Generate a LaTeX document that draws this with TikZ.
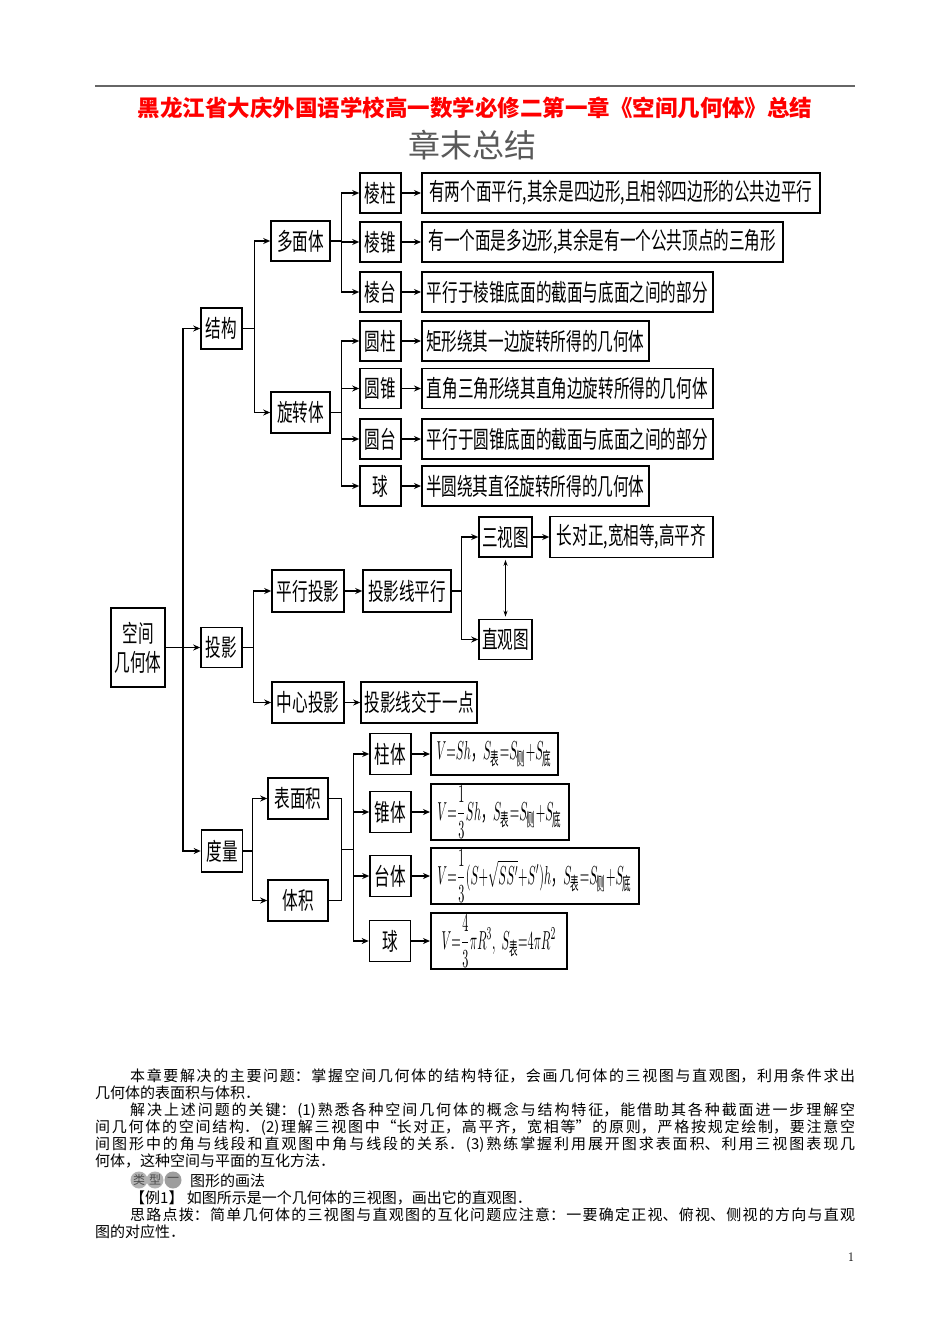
\documentclass[tikz,border=0pt]{standalone}
\usepackage{amsmath}
\usepackage{graphicx}
\usepackage{fontspec}
\newfontfamily\cjk{Noto Sans CJK SC}
\newfontfamily\boxfont[FakeStretch=0.65]{Noto Sans CJK SC}
\usetikzlibrary{arrows.meta,calc}
\XeTeXlinebreaklocale "zh"
\XeTeXlinebreakskip=0pt plus 3pt
\tolerance=9999

\tikzset{
  box/.style={draw, line width=1.6pt, inner sep=1pt, minimum height=40pt,
    font=\boxfont\fontsize{24}{26}\selectfont},
  desc/.style={box, anchor=west},
  fmlbox/.style={draw, line width=1.6pt, inner sep=2pt, anchor=west},
  arr/.style={line width=1.3pt, -{Stealth[length=7pt,width=6pt]}},
  link/.style={line width=1.3pt},
  bodyline/.style={anchor=base west, inner sep=0pt, text width=#1, align=justify,
    font=\cjk\fontsize{15}{17}\selectfont},
  bodylast/.style={anchor=base west, inner sep=0pt, font=\cjk\fontsize{15}{17}\selectfont},
  badge/.style={circle, fill=black!30, inner sep=0pt, minimum size=17pt, text=black!70,
    font=\cjk\fontsize{12}{12}\selectfont}
}
\newcommand{\zh}[1]{\text{\cjk #1}}
\newcommand{\fml}[1]{\scalebox{1.22}[2.6]{\fontsize{10}{12}\selectfont$#1$}}

\begin{document}
\begin{tikzpicture}[x=1pt,y=-1pt]
  \useasboundingbox (0,0) rectangle (950,1344);
  \fill[white] (0,0) rectangle (950,1344);

  % --- header ---
  \draw[line width=1.6pt, black!60] (95,86) -- (855,86);
  \node[font=\cjk\bfseries\fontsize{22.5}{26}\selectfont, text=red] (title) at (475,108)
    {黑龙江省大庆外国语学校高一数学必修二第一章《空间几何体》总结};
  \node[font=\cjk\fontsize{32}{36}\selectfont, text=black!65] (subtitle) at (472,145) {章末总结};

  % --- root and first level ---
  \node[box, minimum width=54pt, minimum height=79pt, align=center,
    font=\boxfont\fontsize{24}{29}\selectfont] (root) at (138,647.5) {空间\\几何体};
  \node[box, minimum width=41pt, minimum height=41pt] (jiegou) at (221.5,328.5) {结构};
  \node[box, minimum width=41pt] (touying) at (221.5,647.5) {投影};
  \node[box, minimum width=41pt, minimum height=42pt] (duliang) at (222,851) {度量};

  % --- structure ---
  \node[box, minimum width=59pt] (duomian) at (300.5,241) {多面体};
  \node[box, minimum width=59pt, minimum height=41pt] (xuanzhuan) at (300.5,412.5) {旋转体};

  \node[box, minimum width=41pt] (lengzhu) at (380.5,193) {棱柱};
  \node[box, minimum width=41pt] (lengzhui) at (380.5,242) {棱锥};
  \node[box, minimum width=41pt] (lengtai) at (380.5,292) {棱台};
  \node[box, minimum width=41pt] (yuanzhu) at (380.5,341) {圆柱};
  \node[box, minimum width=41pt] (yuanzhui) at (380.5,388.5) {圆锥};
  \node[box, minimum width=41pt] (yuantai) at (380.5,439) {圆台};
  \node[box, minimum width=41pt] (qiu) at (380.5,486) {球};

  \node[desc, minimum width=398pt] (d1) at (421,193) {有两个面平行,其余是四边形,且相邻四边形的公共边平行};
  \node[desc, minimum width=361pt] (d2) at (421,242) {有一个面是多边形,其余是有一个公共顶点的三角形};
  \node[desc, minimum width=291pt] (d3) at (421,292) {平行于棱锥底面的截面与底面之间的部分};
  \node[desc, minimum width=227pt] (d4) at (421,341) {矩形绕其一边旋转所得的几何体};
  \node[desc, minimum width=291pt] (d5) at (421,388.5) {直角三角形绕其直角边旋转所得的几何体};
  \node[desc, minimum width=291pt] (d6) at (421,439) {平行于圆锥底面的截面与底面之间的部分};
  \node[desc, minimum width=227pt] (d7) at (421,486) {半圆绕其直径旋转所得的几何体};

  % --- projection ---
  \node[box, minimum width=72pt, minimum height=42pt] (pxty) at (308,591) {平行投影};
  \node[box, minimum width=88pt, minimum height=42pt] (tyxpx) at (407,591) {投影线平行};
  \node[box, minimum width=72pt, minimum height=41pt] (zxty) at (308,702.5) {中心投影};
  \node[box, minimum width=116pt, minimum height=41pt] (tyxj) at (419,702.5) {投影线交于一点};
  \node[box, minimum width=53pt] (sst) at (505.5,537) {三视图};
  \node[box, minimum width=163pt, minimum height=41pt] (cdz) at (631.5,537) {长对正,宽相等,高平齐};
  \node[box, minimum width=53pt] (zgt) at (505.5,639.5) {直观图};

  % --- measure ---
  \node[box, minimum width=60pt, minimum height=41pt] (bmj) at (298,798.5) {表面积};
  \node[box, minimum width=60pt, minimum height=41pt] (tj) at (298,900.5) {体积};
  \node[box, minimum width=41pt, minimum height=41pt] (zt) at (390.5,754) {柱体};
  \node[box, minimum width=41pt, minimum height=41pt] (zht) at (390.5,812) {锥体};
  \node[box, minimum width=41pt, minimum height=41pt] (tt) at (390.5,876) {台体};
  \node[box, minimum width=41pt, minimum height=41pt] (qt) at (390,941) {球};

  \node[fmlbox, minimum width=127pt, minimum height=42pt] (f1) at (430,754)
    {\fml{V{=}Sh\zh{，}S_{\zh{表}}{=}S_{\zh{侧}}{+}S_{\zh{底}}}};
  \node[fmlbox, minimum width=138pt, minimum height=56pt] (f2) at (430,812)
    {\fml{V{=}\dfrac{1}{3}Sh\zh{，}S_{\zh{表}}{=}S_{\zh{侧}}{+}S_{\zh{底}}}};
  \node[fmlbox, minimum width=208pt, minimum height=56pt] (f3) at (430,876)
    {\fml{V{=}\dfrac{1}{3}(S{+}\sqrt{SS'}{+}S')h\zh{，}S_{\zh{表}}{=}S_{\zh{侧}}{+}S_{\zh{底}}}};
  \node[fmlbox, minimum width=136pt, minimum height=55pt] (f4) at (430,941)
    {\fml{V{=}\dfrac{4}{3}\pi R^3,\ S_{\zh{表}}{=}4\pi R^2}};

  % --- connectors ---
  \coordinate (trunk) at (183,647.5);
  \draw[arr] (root.east) -- (touying.west);
  \draw[arr] (trunk) |- (jiegou.west);
  \draw[arr] (trunk) |- (duliang.west);

  \draw[arr] (jiegou.east) -- ++(12,0) |- (duomian.west);
  \draw[arr] (jiegou.east) -- ++(12,0) |- (xuanzhuan.west);
  \foreach \n in {lengzhu,lengzhui,lengtai}
    \draw[arr] (duomian.east) -- ++(11,0) |- (\n.west);
  \foreach \n in {yuanzhu,yuanzhui,yuantai,qiu}
    \draw[arr] (xuanzhuan.east) -- ++(11,0) |- (\n.west);
  \foreach \a/\b in {lengzhu/d1,lengzhui/d2,lengtai/d3,yuanzhu/d4,yuanzhui/d5,yuantai/d6,qiu/d7}
    \draw[arr] (\a.east) -- (\b.west);

  \draw[arr] (touying.east) -- ++(11,0) |- (pxty.west);
  \draw[arr] (touying.east) -- ++(11,0) |- (zxty.west);
  \draw[arr] (pxty.east) -- (tyxpx.west);
  \draw[arr] (zxty.east) -- (tyxj.west);
  \draw[arr] (tyxpx.east) -- ++(10,0) |- (sst.west);
  \draw[arr] (tyxpx.east) -- ++(10,0) |- (zgt.west);
  \draw[arr] (sst.east) -- (cdz.west);
  \draw[line width=0.9pt, {Stealth[length=6pt,width=4pt]}-{Stealth[length=6pt,width=4pt]},
    shorten <=2pt, shorten >=2pt] (sst.south) -- (zgt.north);

  \draw[arr] (duliang.east) -- ++(9,0) |- (bmj.west);
  \draw[arr] (duliang.east) -- ++(9,0) |- (tj.west);
  \draw[link] (bmj.east) -- ++(13,0) |- (tj.east);
  \coordinate (merge) at ($(bmj.east)!0.5!(tj.east)+(13,0)$);
  \foreach \n in {zt,zht,tt,qt}
    \draw[arr] (merge) -- ++(12,0) |- (\n.west);
  \foreach \a/\b in {zt/f1,zht/f2,tt/f3,qt/f4}
    \draw[arr] (\a.east) -- (\b.west);

  % --- body text ---
  \node[bodyline=725pt] (l1) at (130,1081)
    {{\parfillskip=0pt 本章要解决的主要问题：掌握空间几何体的结构特征，会画几何体的三视图与直观图，利用条件求出\par}};
  \node[bodylast] (l2) at (95,1098) {几何体的表面积与体积．};
  \node[bodyline=725pt] (l3) at (130,1115)
    {{\parfillskip=0pt 解决上述问题的关键：(1)熟悉各种空间几何体的概念与结构特征，能借助其各种截面进一步理解空\par}};
  \node[bodyline=760pt] (l4) at (95,1132)
    {{\parfillskip=0pt 间几何体的空间结构．(2)理解三视图中“长对正，高平齐，宽相等”的原则，严格按规定绘制，要注意空\par}};
  \node[bodyline=760pt] (l5) at (95,1149)
    {{\parfillskip=0pt 间图形中的角与线段和直观图中角与线段的关系．(3)熟练掌握利用展开图求表面积、利用三视图表现几\par}};
  \node[bodylast] (l6) at (95,1166) {何体，这种空间与平面的互化方法．};

  \node[badge] (b1) at (139,1180) {类};
  \node[badge] (b2) at (155,1180) {型};
  \node[badge, fill=black!38] (b3) at (173,1180) {一};
  \node[bodylast] (l7) at (190,1186) {图形的画法};
  \node[bodylast] (l8) at (130,1203) {【例1】 如图所示是一个几何体的三视图，画出它的直观图．};
  \node[bodyline=725pt] (l9) at (130,1220)
    {{\parfillskip=0pt 思路点拨：简单几何体的三视图与直观图的互化问题应注意：一要确定正视、俯视、侧视的方向与直观\par}};
  \node[bodylast] (l10) at (95,1237) {图的对应性．};

  \node[font=\fontsize{13}{13}\selectfont] (pnum) at (851,1257) {1};
\end{tikzpicture}
\end{document}
